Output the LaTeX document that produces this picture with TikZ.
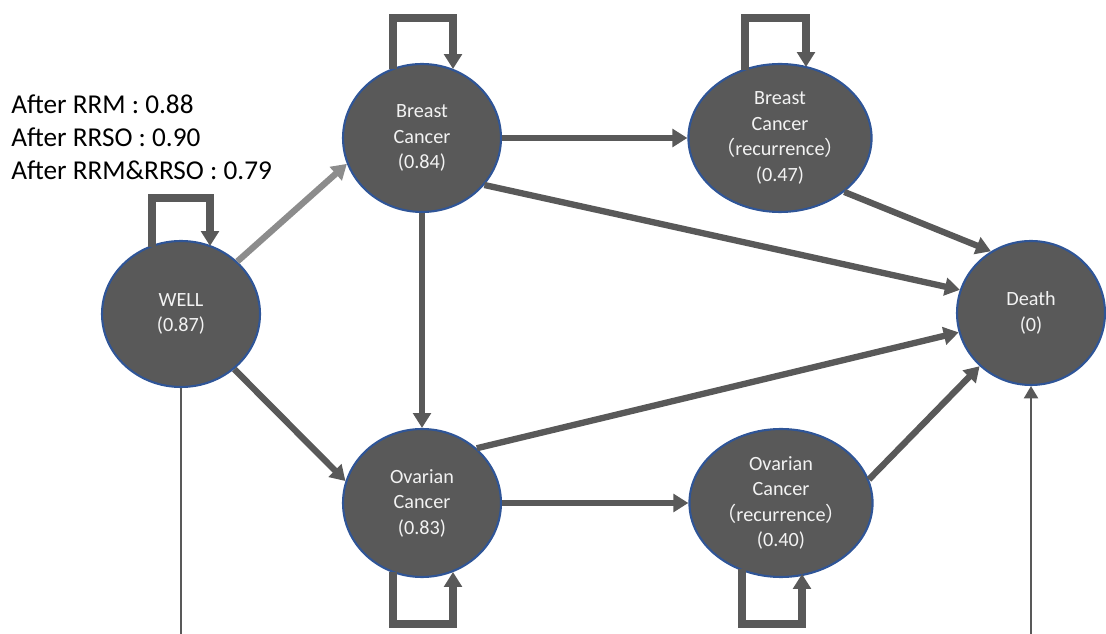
\documentclass[tikz,border=0pt]{standalone}
\usepackage{fontspec}
\setmainfont{Carlito}
\newfontfamily\cjk{Noto Sans CJK JP}
\usetikzlibrary{shapes.geometric,arrows.meta,calc}
\definecolor{nodegray}{HTML}{595959}
\definecolor{rimblue}{HTML}{2F5597}
\definecolor{linkgray}{HTML}{595959}
\definecolor{lightlink}{HTML}{8C8C8C}
\definecolor{labelwhite}{HTML}{F2F2F2}
\newcommand{\recur}{{\cjk （}recurrence{\cjk ）}}

\begin{document}
\begin{tikzpicture}[x=0.02cm,y=-0.02cm,
  state/.style={ellipse, fill=nodegray, draw=rimblue, line width=1.2pt,
    text=labelwhite, align=center, inner sep=0pt,
    font=\fontsize{11.5}{14.5}\selectfont},
  link/.style={draw=linkgray, line width=3.6pt,
    -{Triangle[length=8.5pt,width=10pt]}},
  selfloop/.style={draw=linkgray, line width=4pt, line join=miter,
    -{Triangle[length=8.5pt,width=10pt]}},
  thinlink/.style={draw=linkgray, line width=1.1pt}]

\useasboundingbox (0,0) rectangle (1106,634);

% states
\node[state, minimum width=3.16cm, minimum height=2.92cm] (wl) at (181,314) {WELL\\(0.87)};
\node[state, minimum width=3.16cm, minimum height=2.96cm] (br) at (422,138) {Breast\\Cancer\\(0.84)};
\node[state, minimum width=3.36cm, minimum height=2.96cm] (brr) at (780,138) {Breast\\Cancer\\\recur\\(0.47)};
\node[state, minimum width=3.16cm, minimum height=2.96cm] (ov) at (422,503) {Ovarian\\Cancer\\(0.83)};
\node[state, minimum width=3.36cm, minimum height=2.96cm] (ovr) at (781,503) {Ovarian\\Cancer\\\recur\\(0.40)};
\node[state, minimum width=2.96cm, minimum height=2.88cm] (de) at (1031,313) {Death\\(0)};

% utility values after risk-reducing surgery
\node[anchor=west, align=left, inner sep=0pt,
  font=\fontsize{15.5}{18.7}\selectfont] (rates) at (11,137)
  {After RRM : 0.88\\After RRSO : 0.90\\After RRM\&RRSO : 0.79};

% transitions
\draw[link, draw=lightlink] (wl.43) -- (br.199);
\draw[link] (wl.-46) -- (ov.164);
\draw[link] (br.east) -- (brr.west);
\draw[link] (br.south) -- (ov.north);
\draw[link] (br.-37) -- (de.162);
\draw[link] (brr.-40) -- (de.123);
\draw[link] (ov.45) -- (de.195);
\draw[link] (ov.east) -- (ovr.west);
\draw[link] (ovr.15) -- (de.226);

% staying in the same state
\draw[selfloop] ($(wl)+(-29,-67)$) -- ++(0,-49) -| ($(wl)+(29,-68)$);
\draw[selfloop] ($(br)+(-29,-69)$) -- ++(0,-51) -| ($(br)+(31,-69)$);
\draw[selfloop] ($(brr)+(-35,-68)$) -- ++(0,-52) -| ($(brr)+(26,-71)$);
\draw[selfloop] ($(ov)+(-29,69)$) -- ++(0,52) -| ($(ov)+(31,69)$);
\draw[selfloop] ($(ovr)+(-39,66)$) -- ++(0,55) -| ($(ovr)+(21,71)$);

% lines running off the lower edge
\coordinate (wlfoot) at (182,634);
\coordinate (defoot) at (1030,634);
\draw[thinlink] (wl.south) -- (wl.south |- wlfoot);
\draw[thinlink, -{Triangle[length=7pt,width=8pt]}] (de.south |- defoot) -- (de.south);
\end{tikzpicture}
\end{document}
